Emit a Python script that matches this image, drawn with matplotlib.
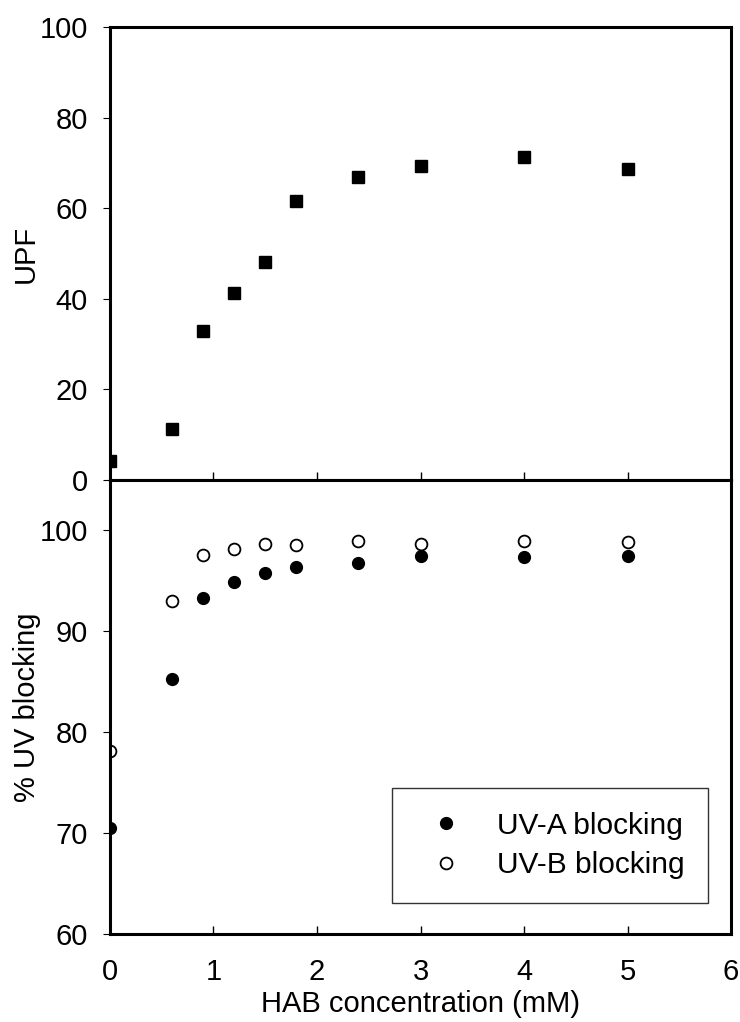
import matplotlib
matplotlib.use("Agg")
import matplotlib.pyplot as plt

# Data
hab_conc = [0, 0.6, 0.9, 1.2, 1.5, 1.8, 2.4, 3, 4, 5]
upf = [4.3, 11.2, 32.9, 41.3, 48.1, 61.5, 66.8, 69.4, 71.2, 68.7]
uva_blocking = [70.5, 85.3, 93.3, 94.9, 95.8, 96.4, 96.8, 97.5, 97.4, 97.5]
uvb_blocking = [78.1, 93.0, 97.6, 98.2, 98.7, 98.6, 99.0, 98.7, 99.0, 98.9]

plt.rcParams["font.family"] = ["Liberation Sans", "DejaVu Sans"]

fig = plt.figure(figsize=(7.4, 10.22), dpi=100)
ax_top = fig.add_axes([0.1486, 0.5303, 0.8394, 0.4433])
ax_bot = fig.add_axes([0.1486, 0.0861, 0.8394, 0.4442], sharex=ax_top)

# top panel: UPF
ax_top.plot(hab_conc, upf, linestyle="none", marker="s", markersize=8.5,
            color="black")
ax_top.set_ylim(0, 100)
ax_top.set_yticks([0, 20, 40, 60, 80, 100])
ax_top.set_ylabel("UPF", fontsize=21)
ax_top.yaxis.set_label_coords(-0.113, 0.5)

# bottom panel: % UV blocking
ax_bot.plot(hab_conc, uva_blocking, linestyle="none", marker="o",
            markersize=8.5, color="black", label="UV-A blocking")
ax_bot.plot(hab_conc, uvb_blocking, linestyle="none", marker="o",
            markersize=8.5, markerfacecolor="white", markeredgecolor="black",
            markeredgewidth=1.3, label="UV-B blocking")
ax_bot.set_ylim(60, 105)
ax_bot.set_yticks([60, 70, 80, 90, 100])
ax_bot.set_ylabel("% UV blocking", fontsize=21)
ax_bot.yaxis.set_label_coords(-0.111, 0.5)
ax_bot.set_xlim(0, 6)
ax_bot.set_xticks([0, 1, 2, 3, 4, 5, 6])
ax_bot.set_xlabel("HAB concentration (mM)", fontsize=21)
ax_bot.xaxis.set_label_coords(0.5, -0.123)

leg = ax_bot.legend(loc="lower right", bbox_to_anchor=(0.963, 0.068),
                    fontsize=21.5, frameon=True, fancybox=False,
                    edgecolor="black", borderpad=0.8, handletextpad=0.7,
                    labelspacing=0.38, borderaxespad=0, handlelength=2.0)
leg.get_frame().set_linewidth(1.0)

for ax in (ax_top, ax_bot):
    for sp in ax.spines.values():
        sp.set_linewidth(2.2)
    ax.tick_params(axis="x", direction="in", length=6, width=1.0,
                   labelsize=21, pad=17.5)
    ax.tick_params(axis="y", direction="out", length=5, width=0.8,
                   labelsize=21, pad=11)

ax_top.tick_params(axis="x", labelbottom=False)

fig.savefig("out.png", dpi=100)
